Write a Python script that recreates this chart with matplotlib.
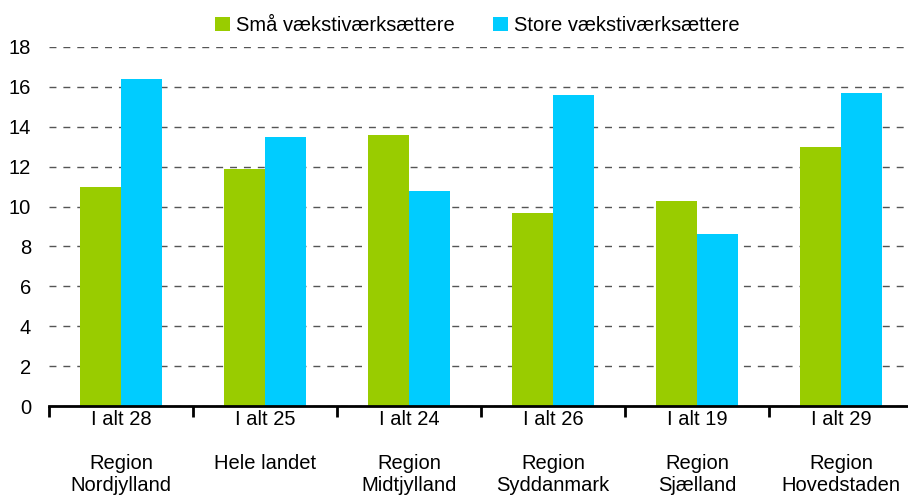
import numpy as np
import matplotlib.pyplot as plt

plt.rcParams["font.family"] = ["Liberation Sans", "DejaVu Sans"]

regions = ["Region\nNordjylland", "Hele landet", "Region\nMidtjylland",
           "Region\nSyddanmark", "Region\nSjælland", "Region\nHovedstaden"]
totals = [28, 25, 24, 26, 19, 29]
small = [11.0, 11.9, 13.6, 9.7, 10.3, 13.0]
large = [16.4, 13.5, 10.8, 15.6, 8.6, 15.7]

GREEN = "#99cc00"
BLUE = "#00ccff"
FS = 14.5

fig = plt.figure(figsize=(9.08, 5.03), dpi=100)
ax = fig.add_axes([49 / 908, 1 - 406 / 503, 864 / 908, 359 / 503])

x = np.arange(len(regions))
w = 0.285
ax.bar(x - w / 2, small, w, color=GREEN, label="Små vækstiværksættere", zorder=3)
ax.bar(x + w / 2, large, w, color=BLUE, label="Store vækstiværksættere", zorder=3)

ax.set_xlim(-0.5, len(regions) - 0.5)
ax.set_ylim(0, 18)
ax.set_yticks(range(0, 19, 2))
ax.tick_params(axis="y", length=0, labelsize=FS, pad=13)

ax.grid(axis="y", color="#555555", linestyle=(0, (5, 5)), linewidth=1, zorder=0)

# category boundaries get the ticks, labels sit at the centres
ax.set_xticks(np.arange(-0.5, len(regions)), labels=[""] * (len(regions) + 1))
ax.tick_params(axis="x", which="major", direction="out", length=8, width=2, color="black")
ax.set_xticks(x, minor=True)
ax.set_xticklabels([f"I alt {t}\n\n{r}" for t, r in zip(totals, regions)],
                   minor=True, fontsize=FS, linespacing=1.2)
ax.tick_params(axis="x", which="minor", length=0, pad=3)

for s in ["top", "right", "left"]:
    ax.spines[s].set_visible(False)
ax.spines["bottom"].set_linewidth(2)
ax.spines["bottom"].set_zorder(4)

fig.legend(loc="upper left", bbox_to_anchor=(199 / 908, 1.0), ncol=2,
           frameon=False, fontsize=FS, handlelength=0.75, handleheight=0.75,
           handletextpad=0.3, columnspacing=1.9, borderpad=0.3)

fig.savefig("out.png", dpi=100)
